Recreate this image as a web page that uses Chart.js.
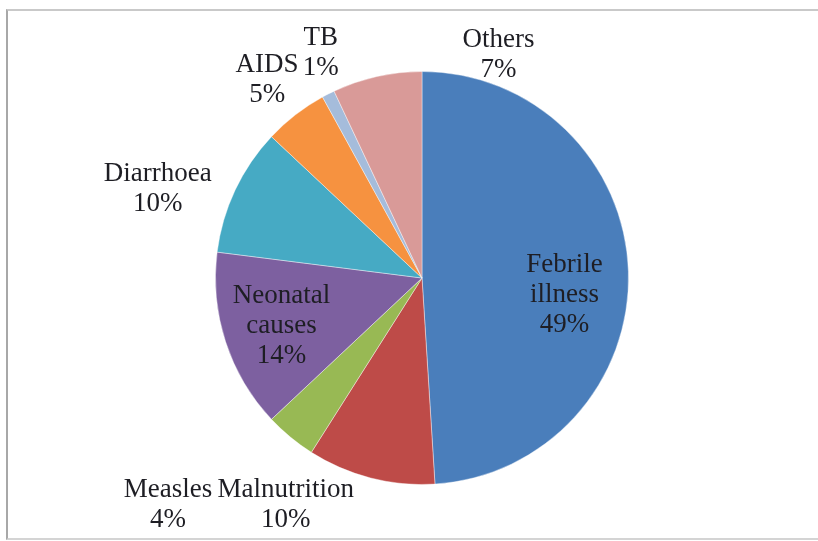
<!DOCTYPE html>
<html>
<head>
<meta charset="utf-8">
<script src="https://cdn.jsdelivr.net/npm/chart.js@4/dist/chart.umd.min.js"></script>
<style>
    html, body { margin: 0; padding: 0; background: #fff; }
    #wrap { position: relative; width: 818px; height: 541px; overflow: hidden; }
    #frame {
        position: absolute; left: 6px; top: 9px; width: 830px; height: 527px;
        border-top: 2px solid #c9c9c9; border-left: 2px solid #a8a8a8; border-bottom: 2px solid #d4d4d4;
    }
    canvas { position: absolute; left: 0; top: 0; }
</style>
</head>
<body>
<div id="wrap">
    <div id="frame"></div>
    <canvas id="pie" width="818" height="541"></canvas>
</div>
<script>
// Данные
const categories = ['Febrile illness', 'Malnutrition', 'Measles', 'Neonatal causes', 'Diarrhoea', 'AIDS', 'TB', 'Others'];
const shares = [49, 10, 4, 14, 10, 5, 1, 7];
const labelLines = [
    ['Febrile', 'illness', '49%'],
    ['Malnutrition', '10%'],
    ['Measles', '4%'],
    ['Neonatal', 'causes', '14%'],
    ['Diarrhoea', '10%'],
    ['AIDS', '5%'],
    ['TB', '1%'],
    ['Others', '7%']
];
const sliceColors = ['#4a7ebb', '#be4b48', '#98b954', '#7d60a0', '#46aac4', '#f69240', '#a5bcdb', '#d99a98'];

// Подписи: смещение от центра в долях радиуса
const labelOffsets = [
    [0.69, 0.08], [-0.66, 1.10], [-1.23, 1.10], [-0.68, 0.23],
    [-1.28, -0.43], [-0.75, -0.96], [-0.49, -1.09], [0.37, -1.08]
];

const sliceLabels = {
    id: 'sliceLabels',
    afterDatasetsDraw(chart) {
        const arc = chart.getDatasetMeta(0).data[0];
        if (!arc) return;
        const ctx = chart.ctx;
        const r = arc.outerRadius;
        ctx.save();
        ctx.font = '27px "Liberation Serif", "Times New Roman", serif';
        ctx.fillStyle = '#1e1e24';
        ctx.textAlign = 'center';
        ctx.textBaseline = 'middle';
        const lh = 30;
        labelLines.forEach((lines, i) => {
            const cx = arc.x + labelOffsets[i][0] * r;
            const cy = arc.y + labelOffsets[i][1] * r;
            const top = cy - (lines.length - 1) * lh / 2;
            lines.forEach((t, j) => ctx.fillText(t, cx, top + j * lh));
        });
        ctx.restore();
    }
};

new Chart(document.getElementById('pie').getContext('2d'), {
    type: 'pie',
    data: {
        labels: categories,
        datasets: [{
            data: shares,
            backgroundColor: sliceColors,
            borderColor: 'rgba(255,255,255,0.4)',
            borderWidth: 1
        }]
    },
    options: {
        responsive: false,
        animation: false,
        layout: { padding: { left: 26, right: 0, top: 71, bottom: 56 } },
        plugins: {
            legend: { display: false },
            tooltip: { enabled: false }
        }
    },
    plugins: [sliceLabels]
});
</script>
</body>
</html>
